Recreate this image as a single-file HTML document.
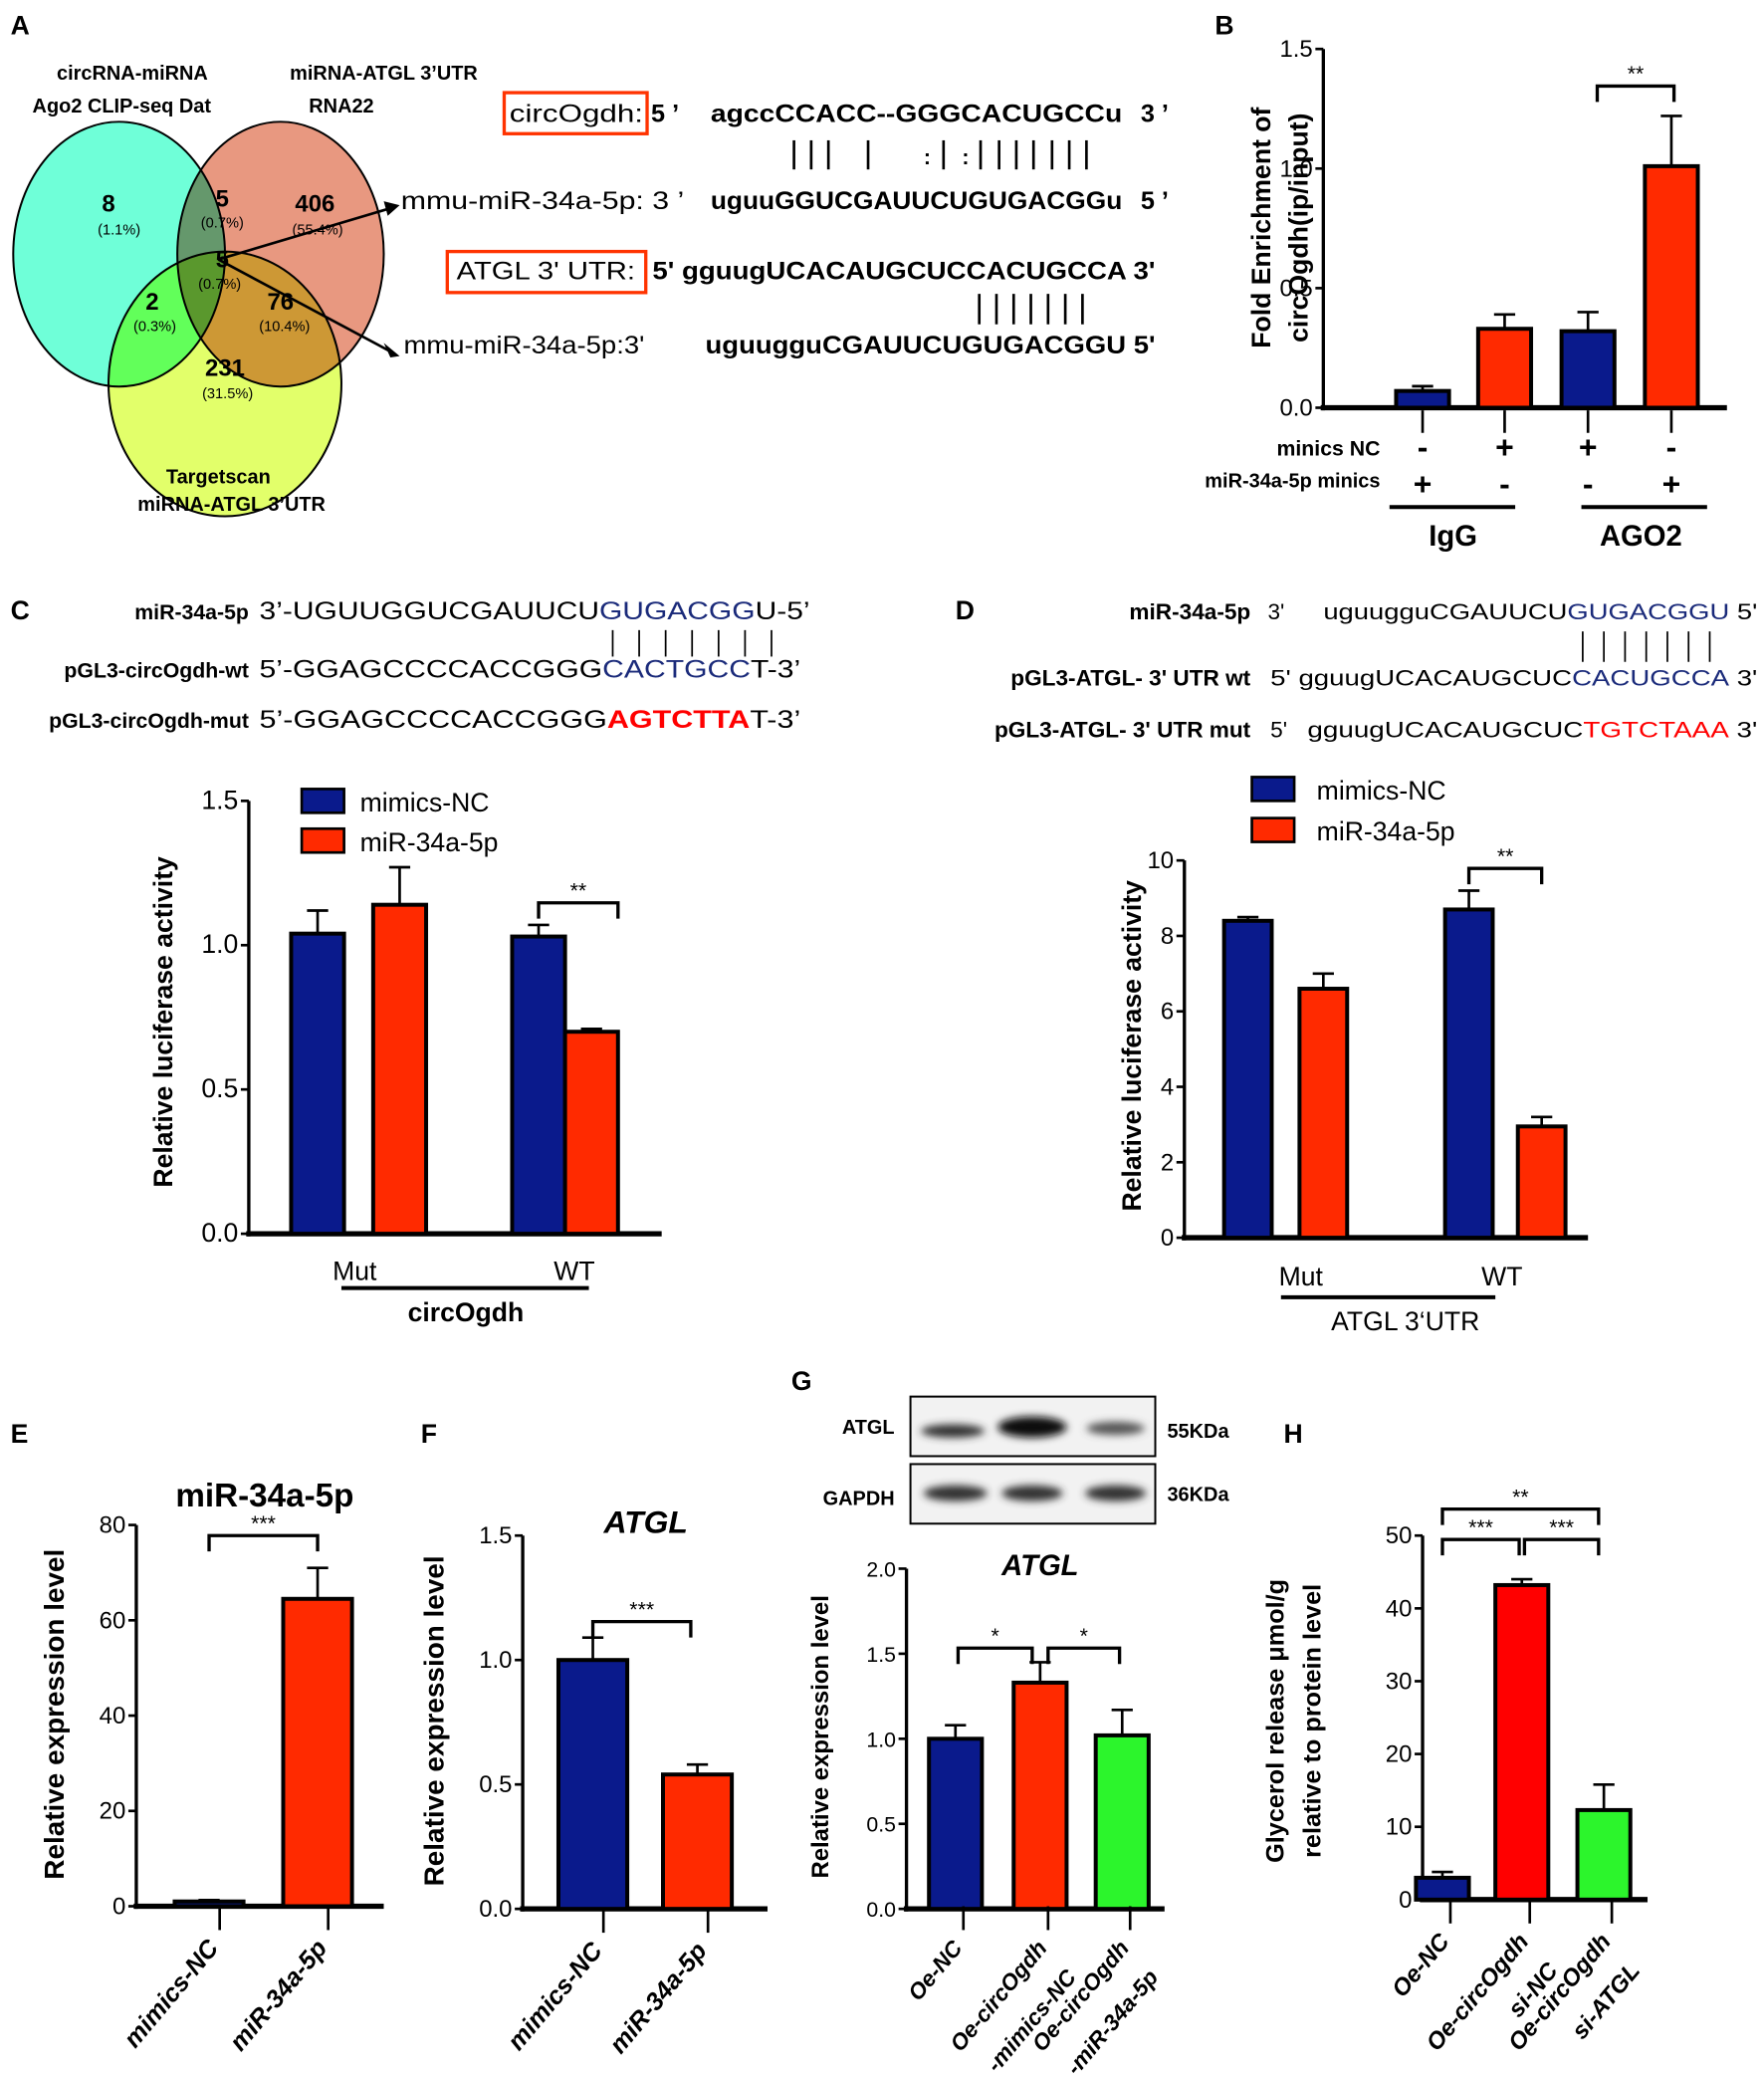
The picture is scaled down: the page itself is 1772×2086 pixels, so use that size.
<!DOCTYPE html>
<html><head><meta charset="utf-8"><style>
html,body{margin:0;padding:0;background:#fff}
svg{display:block}
text{font-family:"Liberation Sans",Arial,sans-serif;fill:#000}
.mul{mix-blend-mode:multiply}
</style></head><body>
<svg id="fig" xmlns="http://www.w3.org/2000/svg" width="1772" height="2086" viewBox="0 0 1333 1569" preserveAspectRatio="none">
<g font-weight="bold">
<text x="8" y="26" font-size="20">A</text>
<g style="isolation:isolate">
<ellipse cx="90" cy="192" rx="80" ry="100" fill="#6fffd8" stroke="#000" stroke-width="1.5"/>
<ellipse class="mul" cx="212" cy="192" rx="78" ry="100" fill="#e89880" stroke="#000" stroke-width="1.5"/>
<ellipse class="mul" cx="170" cy="290" rx="88" ry="100" fill="#e2ff6a" stroke="#000" stroke-width="1.5"/>
</g>
<g font-size="15" text-anchor="middle">
<text x="100" y="60">circRNA-miRNA</text>
<text x="92" y="85">Ago2 CLIP-seq Dat</text>
<text x="290" y="60">miRNA-ATGL 3’UTR</text>
<text x="258" y="85">RNA22</text>
<text x="165" y="365">Targetscan</text>
<text x="175" y="386">miRNA-ATGL 3’UTR</text>
</g>
<g text-anchor="middle" font-size="18">
<text x="82" y="160">8</text><text x="168" y="156">5</text><text x="238" y="160">406</text><text x="168" y="202">5</text><text x="115" y="234">2</text><text x="212" y="234">76</text><text x="170" y="284">231</text>
</g>
<g text-anchor="middle" font-size="11" font-weight="normal">
<text x="90" y="177">(1.1%)</text><text x="168" y="172">(0.7%)</text><text x="240" y="177">(55.4%)</text><text x="166" y="218">(0.7%)</text><text x="117" y="250">(0.3%)</text><text x="215" y="250">(10.4%)</text><text x="172" y="301">(31.5%)</text>
</g>
<line x1="165" y1="196" x2="296" y2="157" stroke="#000" stroke-width="2"/><polygon points="302,155 290,152 293,163" fill="#000"/>
<line x1="165" y1="196" x2="296" y2="266" stroke="#000" stroke-width="2"/><polygon points="302,269 290,259 295,270" fill="#000"/>
<rect x="381" y="70" width="108" height="31" fill="none" stroke="#ff3300" stroke-width="2.5"/>
<g font-size="19">
<text x="385" y="92" font-weight="normal" textLength="101" lengthAdjust="spacingAndGlyphs">circOgdh:</text><text x="492" y="92">5 ’</text>
<text x="537" y="92" textLength="311" lengthAdjust="spacingAndGlyphs">agccCCACC--GGGCACUGCCu</text><text x="862" y="92">3 ’</text>
<text x="303" y="158" font-weight="normal" textLength="214" lengthAdjust="spacingAndGlyphs">mmu-miR-34a-5p: 3 ’</text>
<text x="537" y="158" textLength="311" lengthAdjust="spacingAndGlyphs">uguuGGUCGAUUCUGUGACGGu</text><text x="862" y="158">5 ’</text>
<text x="345" y="211" font-weight="normal" textLength="135" lengthAdjust="spacingAndGlyphs">ATGL 3' UTR:</text>
<text x="493" y="211" textLength="380" lengthAdjust="spacingAndGlyphs">5' gguugUCACAUGCUCCACUGCCA 3'</text>
<text x="305" y="267" font-weight="normal" textLength="182" lengthAdjust="spacingAndGlyphs">mmu-miR-34a-5p:3'</text>
<text x="533" y="267" textLength="340" lengthAdjust="spacingAndGlyphs">uguugguCGAUUCUGUGACGGU 5'</text>
</g>
<rect x="338" y="190" width="150" height="31" fill="none" stroke="#ff3300" stroke-width="2.5"/>
<g stroke="#000" stroke-width="2">
<line x1="600" y1="106" x2="600" y2="128"/><line x1="613" y1="106" x2="613" y2="128"/><line x1="626" y1="106" x2="626" y2="128"/><line x1="656" y1="106" x2="656" y2="128"/>
<line x1="713" y1="106" x2="713" y2="128"/><line x1="741" y1="106" x2="741" y2="128"/><line x1="755" y1="106" x2="755" y2="128"/><line x1="768" y1="106" x2="768" y2="128"/><line x1="781" y1="106" x2="781" y2="128"/><line x1="795" y1="106" x2="795" y2="128"/><line x1="808" y1="106" x2="808" y2="128"/><line x1="821" y1="106" x2="821" y2="128"/>
<line x1="740" y1="222" x2="740" y2="245"/><line x1="753" y1="222" x2="753" y2="245"/><line x1="766" y1="222" x2="766" y2="245"/><line x1="779" y1="222" x2="779" y2="245"/><line x1="792" y1="222" x2="792" y2="245"/><line x1="805" y1="222" x2="805" y2="245"/><line x1="818" y1="222" x2="818" y2="245"/>
</g>
<text x="698" y="124" font-size="16">:</text><text x="727" y="124" font-size="16">:</text>
</g>

<g font-size="19">
<text x="8" y="468" font-size="20" font-weight="bold">C</text>
<text x="188" y="468" text-anchor="end" font-weight="bold" font-size="16">miR-34a-5p</text>
<text x="196" y="468" textLength="416" lengthAdjust="spacingAndGlyphs">3’-UGUUGGUCGAUUCU<tspan fill="#1a2a7a">GUGACGG</tspan>U-5’</text>
<text x="188" y="512" text-anchor="end" font-weight="bold" font-size="16">pGL3-circOgdh-wt</text>
<text x="196" y="512" textLength="409" lengthAdjust="spacingAndGlyphs">5’-GGAGCCCCACCGGG<tspan fill="#1a2a7a">CACTGCC</tspan>T-3’</text>
<text x="188" y="550" text-anchor="end" font-weight="bold" font-size="16">pGL3-circOgdh-mut</text>
<text x="196" y="550" textLength="409" lengthAdjust="spacingAndGlyphs">5’-GGAGCCCCACCGGG<tspan fill="#ff0000" font-weight="bold">AGTCTTA</tspan>T-3’</text>
<g stroke="#000" stroke-width="1.3"><line x1="463" y1="476" x2="463" y2="496"/><line x1="483" y1="476" x2="483" y2="496"/><line x1="503" y1="476" x2="503" y2="496"/><line x1="523" y1="476" x2="523" y2="496"/><line x1="543" y1="476" x2="543" y2="496"/><line x1="563" y1="476" x2="563" y2="496"/><line x1="583" y1="476" x2="583" y2="496"/></g>
</g>
<g font-size="17">
<text x="722" y="468" font-size="20" font-weight="bold">D</text>
<text x="945" y="468" text-anchor="end" font-weight="bold">miR-34a-5p</text><text x="958" y="468">3'</text>
<text x="1000" y="468" textLength="328" lengthAdjust="spacingAndGlyphs">uguugguCGAUUCU<tspan fill="#1a2a7a">GUGACGGU</tspan> 5'</text>
<text x="945" y="518" text-anchor="end" font-weight="bold">pGL3-ATGL- 3' UTR wt</text>
<text x="960" y="518" textLength="368" lengthAdjust="spacingAndGlyphs">5' gguugUCACAUGCUC<tspan fill="#1a2a7a">CACUGCCA</tspan> 3'</text>
<text x="945" y="557" text-anchor="end" font-weight="bold">pGL3-ATGL- 3' UTR mut</text>
<text x="960" y="557">5'</text>
<text x="988" y="557" textLength="340" lengthAdjust="spacingAndGlyphs">gguugUCACAUGCUC<tspan fill="#ff0000">TGTCTAAA</tspan> 3'</text>
<g stroke="#000" stroke-width="1.3"><line x1="1196" y1="477" x2="1196" y2="500"/><line x1="1212" y1="477" x2="1212" y2="500"/><line x1="1228" y1="477" x2="1228" y2="500"/><line x1="1244" y1="477" x2="1244" y2="500"/><line x1="1260" y1="477" x2="1260" y2="500"/><line x1="1276" y1="477" x2="1276" y2="500"/><line x1="1292" y1="477" x2="1292" y2="500"/></g>
</g>

<g>
<text x="598" y="1050" font-size="20" font-weight="bold">G</text>
<defs><filter id="bl"><feGaussianBlur stdDeviation="3"/></filter></defs>
<rect x="688" y="1055" width="185" height="45" fill="#f2f2f2" stroke="#000" stroke-width="1.5"/>
<rect x="688" y="1106" width="185" height="45" fill="#f2f2f2" stroke="#000" stroke-width="1.5"/>
<g filter="url(#bl)" fill="#333">
<ellipse cx="720" cy="1081" rx="24" ry="5"/><ellipse cx="780" cy="1078" rx="26" ry="8" fill="#111"/><ellipse cx="843" cy="1079" rx="22" ry="5" fill="#555"/>
<ellipse cx="722" cy="1128" rx="24" ry="6"/><ellipse cx="780" cy="1128" rx="23" ry="6"/><ellipse cx="843" cy="1128" rx="23" ry="6"/>
</g>
<text x="676" y="1083" text-anchor="end" font-size="15" font-weight="bold">ATGL</text>
<text x="676" y="1137" text-anchor="end" font-size="15" font-weight="bold">GAPDH</text>
<text x="882" y="1086" font-size="15" font-weight="bold">55KDa</text>
<text x="882" y="1134" font-size="15" font-weight="bold">36KDa</text>
</g>
<text x="8" y="1090" font-size="20" font-weight="bold">E</text>
<text x="318" y="1090" font-size="20" font-weight="bold">F</text>
<text x="970" y="1090" font-size="20" font-weight="bold">H</text>
<text x="918" y="26" font-size="20" font-weight="bold">B</text>
</svg>
<script>
const NS='http://www.w3.org/2000/svg';
const svg=document.getElementById('fig');
const BLUE='#0a1a8c',RED='#ff2a00',GREEN='#2cf52c',BRED='#ff0000';
// Data arrays
const bValues=[0.07,0.33,0.32,1.01];
const bErrors=[0.09,0.39,0.40,1.22];
const bTicks=['0.0','0.5','1.0','1.5'];
const cCategories=['Mut','WT'];
const cNC=[1.04,1.03];const cMiR=[1.14,0.70];
const cNCerr=[1.12,1.07];const cMiRerr=[1.27,0.71];
const cTicks=['0.0','0.5','1.0','1.5'];
const dCategories=['Mut','WT'];
const dNC=[8.4,8.7];const dMiR=[6.6,2.95];
const dNCerr=[8.5,9.2];const dMiRerr=[7.0,3.2];
const dTicks=['0','2','4','6','8','10'];
const eCategories=['mimics-NC','miR-34a-5p'];
const eValues=[1,64.5];const eErrors=[1.3,71];
const eTicks=['0','20','40','60','80'];
const fCategories=['mimics-NC','miR-34a-5p'];
const fValues=[1.0,0.54];const fErrors=[1.09,0.58];
const fTicks=['0.0','0.5','1.0','1.5'];
const gCategories=[['Oe-NC'],['Oe-circOgdh','-mimics-NC'],['Oe-circOgdh','-miR-34a-5p']];
const gValues=[1.0,1.33,1.02];const gErrors=[1.08,1.45,1.17];
const gTicks=['0.0','0.5','1.0','1.5','2.0'];
const hCategories=[['Oe-NC'],['Oe-circOgdh','si-NC'],['Oe-circOgdh','si-ATGL']];
const hValues=[3.0,43.2,12.3];const hErrors=[3.8,44,15.8];
const hTicks=['0','10','20','30','40','50'];

function mk(tag,attrs,name,parent){
  const el=document.createElementNS(NS,tag);
  for(const k in attrs)el.setAttribute(k,attrs[k]);
  
  
  (parent||svg).appendChild(el);return el;
}
function txt(x,y,s,size,name,extra){const t=mk('text',Object.assign({x:x,y:y,'font-size':size},extra||{}),name);t.textContent=s;return t;}
function axes(o){
  const ys=v=>o.y0-(o.y0-o.yTop)*v/o.max;
  mk('line',{x1:o.x0,y1:o.y0+2,x2:o.x0,y2:o.yTop,stroke:'#000','stroke-width':2.5},o.p+'-y-axis');
  mk('line',{x1:o.x0-2,y1:o.y0,x2:o.xEnd,y2:o.y0,stroke:'#000','stroke-width':4},o.p+'-x-axis');
  o.ticks.forEach(t=>{const v=parseFloat(t);const y=ys(v);
    mk('line',{x1:o.x0-6,y1:y,x2:o.x0,y2:y,stroke:'#000','stroke-width':2},o.p+'-y-tick');
    txt(o.x0-8,y+6,t,o.fs||18,o.p+'-y-tick-label',{'text-anchor':'end'});});
  return ys;
}
function bar(p,cx,w,v,e,ys,y0,color,name){
  mk('line',{x1:cx,y1:ys(v),x2:cx,y2:ys(e),stroke:'#000','stroke-width':2},name+'-error');
  mk('line',{x1:cx-8,y1:ys(e),x2:cx+8,y2:ys(e),stroke:'#000','stroke-width':2},name+'-error-cap');
  mk('rect',{x:cx-w/2,y:ys(v),width:w,height:y0-ys(v),fill:color,stroke:'#000','stroke-width':3},name);
}
function bracket(x1,x2,y,s,p){
  mk('path',{d:`M${x1} ${y+12}V${y}H${x2}V${y+12}`,fill:'none',stroke:'#000','stroke-width':2.5},p+'-sig-bracket');
  txt((x1+x2)/2,y-4,s,16,p+'-sig-label',{'text-anchor':'middle'});
}
function ytitle(x,y,s,size,p){txt(x,y,s,size,p,{'text-anchor':'middle','font-weight':'bold',transform:`rotate(-90 ${x} ${y})`});}
function rotLabels(cats,xs,y,p,size){
  cats.forEach((c,i)=>{const lines=Array.isArray(c)?c:[c];
    lines.forEach((l,j)=>{const x=xs[i]+j*22,yy=y+j*22;
      txt(x,yy,l,size||19,p+'-x-label',{'text-anchor':'end','font-weight':'bold','font-style':'italic',transform:`rotate(-50 ${x} ${yy})`});});
    mk('line',{x1:xs[i],y1:y-32,x2:xs[i],y2:y-14,stroke:'#000','stroke-width':2},p+'-x-tick');});
}
// Panel B
(function(){
  const ys=axes({p:'b',x0:1000,y0:308,yTop:37,max:1.5,ticks:bTicks,xEnd:1305});
  const xs=[1075,1137,1200,1263],cols=[BLUE,RED,BLUE,RED];
  bValues.forEach((v,i)=>bar('b',xs[i],40,v,bErrors[i],ys,308,cols[i],'b-bar-'+i));
  xs.forEach(x=>mk('line',{x1:x,y1:310,x2:x,y2:327,stroke:'#000','stroke-width':2},'b-x-tick'));
  bracket(1207,1265,65,'**','b');
  const nc=['-','+','+','-'],mi=['+','-','-','+'];
  xs.forEach((x,i)=>{txt(x,346,nc[i],24,'b-minics-nc-sign',{'text-anchor':'middle','font-weight':'bold'});txt(x,374,mi[i],24,'b-mir-sign',{'text-anchor':'middle','font-weight':'bold'});});
  txt(1043,344,'minics NC',16,'b-row-label',{'text-anchor':'end','font-weight':'bold'});
  txt(1043,368,'miR-34a-5p minics',15,'b-row-label',{'text-anchor':'end','font-weight':'bold'});
  mk('line',{x1:1050,y1:383,x2:1145,y2:383,stroke:'#000','stroke-width':3},'b-group-line');
  mk('line',{x1:1195,y1:383,x2:1290,y2:383,stroke:'#000','stroke-width':3},'b-group-line');
  txt(1098,412,'IgG',22,'b-group-igg',{'text-anchor':'middle','font-weight':'bold'});
  txt(1240,412,'AGO2',22,'b-group-ago2',{'text-anchor':'middle','font-weight':'bold'});
  ytitle(960,172,'Fold Enrichment of',20,'b-y-title');ytitle(988,172,'circOgdh(ip/input)',20,'b-y-title');
})();
// Panel C
(function(){
  const ys=axes({p:'c',x0:188,y0:932,yTop:605,max:1.5,ticks:cTicks,xEnd:500,fs:20});
  const bx=[240,407],rx=[302,447];
  cNC.forEach((v,i)=>bar('c',bx[i],40,v,cNCerr[i],ys,932,BLUE,'c-bar-nc-'+cCategories[i]));
  cMiR.forEach((v,i)=>bar('c',rx[i],40,v,cMiRerr[i],ys,932,RED,'c-bar-mir-'+cCategories[i]));
  txt(268,967,cCategories[0],20,'c-x-label',{'text-anchor':'middle'});
  txt(434,967,cCategories[1],20,'c-x-label',{'text-anchor':'middle'});
  mk('line',{x1:258,y1:973,x2:445,y2:973,stroke:'#000','stroke-width':3},'c-group-line');
  txt(352,998,'circOgdh',20,'c-group-label',{'text-anchor':'middle','font-weight':'bold'});
  mk('rect',{x:228,y:596,width:32,height:18,fill:BLUE,stroke:'#000','stroke-width':2},'c-legend-nc');
  txt(272,613,'mimics-NC',20,'c-legend-nc-label');
  mk('rect',{x:228,y:626,width:32,height:18,fill:RED,stroke:'#000','stroke-width':2},'c-legend-mir');
  txt(272,643,'miR-34a-5p',20,'c-legend-mir-label');
  bracket(407,467,682,'**','c');
  ytitle(130,772,'Relative luciferase  activity',20,'c-y-title');
})();
// Panel D
(function(){
  const ys=axes({p:'d',x0:895,y0:935,yTop:650,max:10,ticks:dTicks,xEnd:1200});
  const bx=[943,1110],rx=[1000,1165];
  dNC.forEach((v,i)=>bar('d',bx[i],36,v,dNCerr[i],ys,935,BLUE,'d-bar-nc-'+dCategories[i]));
  dMiR.forEach((v,i)=>bar('d',rx[i],36,v,dMiRerr[i],ys,935,RED,'d-bar-mir-'+dCategories[i]));
  txt(983,971,dCategories[0],20,'d-x-label',{'text-anchor':'middle'});
  txt(1135,971,dCategories[1],20,'d-x-label',{'text-anchor':'middle'});
  mk('line',{x1:968,y1:980,x2:1130,y2:980,stroke:'#000','stroke-width':3},'d-group-line');
  txt(1062,1005,'ATGL 3‘UTR',20,'d-group-label',{'text-anchor':'middle'});
  mk('rect',{x:946,y:587,width:32,height:18,fill:BLUE,stroke:'#000','stroke-width':2},'d-legend-nc');
  txt(995,604,'mimics-NC',20,'d-legend-nc-label');
  mk('rect',{x:946,y:618,width:32,height:18,fill:RED,stroke:'#000','stroke-width':2},'d-legend-mir');
  txt(995,635,'miR-34a-5p',20,'d-legend-mir-label');
  bracket(1110,1165,656,'**','d');
  ytitle(862,790,'Relative luciferase  activity',20,'d-y-title');
})();
// Panel E
(function(){
  const ys=axes({p:'e',x0:103,y0:1440,yTop:1152,max:80,ticks:eTicks,xEnd:290});
  const xs=[158,240],cols=[BLUE,RED];
  eValues.forEach((v,i)=>bar('e',xs[i],52,v,eErrors[i],ys,1440,cols[i],'e-bar-'+eCategories[i]));
  rotLabels(eCategories,xs.map(x=>x+8),1472,'e');
  bracket(158,240,1160,'***','e');
  txt(200,1138,'miR-34a-5p',25,'e-title',{'text-anchor':'middle','font-weight':'bold'});
  ytitle(48,1295,'Relative expression level',21,'e-y-title');
})();
// Panel F
(function(){
  const ys=axes({p:'f',x0:395,y0:1442,yTop:1160,max:1.5,ticks:fTicks,xEnd:580});
  const xs=[448,527],cols=[BLUE,RED];
  fValues.forEach((v,i)=>bar('f',xs[i],52,v,fErrors[i],ys,1442,cols[i],'f-bar-'+fCategories[i]));
  rotLabels(fCategories,xs.map(x=>x+8),1474,'f');
  bracket(448,522,1225,'***','f');
  txt(488,1158,'ATGL',24,'f-title',{'text-anchor':'middle','font-weight':'bold','font-style':'italic'});
  ytitle(335,1300,'Relative expression level',21,'f-y-title');
})();
// Panel G
(function(){
  const ys=axes({p:'g',x0:685,y0:1442,yTop:1185,max:2,ticks:gTicks,xEnd:880,fs:16});
  const xs=[722,786,848],cols=[BLUE,RED,GREEN];
  gValues.forEach((v,i)=>bar('g',xs[i],40,v,gErrors[i],ys,1442,cols[i],'g-bar-'+i));
  rotLabels(gCategories,xs.map(x=>x+6),1472,'g',17);
  bracket(724,780,1245,'*','g');bracket(792,846,1245,'*','g');
  txt(786,1190,'ATGL',22,'g-title',{'text-anchor':'middle','font-weight':'bold','font-style':'italic'});
  ytitle(626,1312,'Relative expression level',18,'g-y-title');
})();
// Panel H
(function(){
  const ys=axes({p:'h',x0:1075,y0:1435,yTop:1160,max:50,ticks:hTicks,xEnd:1245});
  const xs=[1090,1150,1212],cols=[BLUE,BRED,GREEN];
  hValues.forEach((v,i)=>bar('h',xs[i],40,v,hErrors[i],ys,1435,cols[i],'h-bar-'+i));
  rotLabels(hCategories,xs.map(x=>x+6),1467,'h',18);
  bracket(1090,1148,1163,'***','h');bracket(1152,1208,1163,'***','h');bracket(1090,1208,1140,'**','h');
  ytitle(970,1300,'Glycerol release μmol/g',19,'h-y-title');
  ytitle(998,1300,'relative to protein level',19,'h-y-title');
})();
</script>
</body></html>
